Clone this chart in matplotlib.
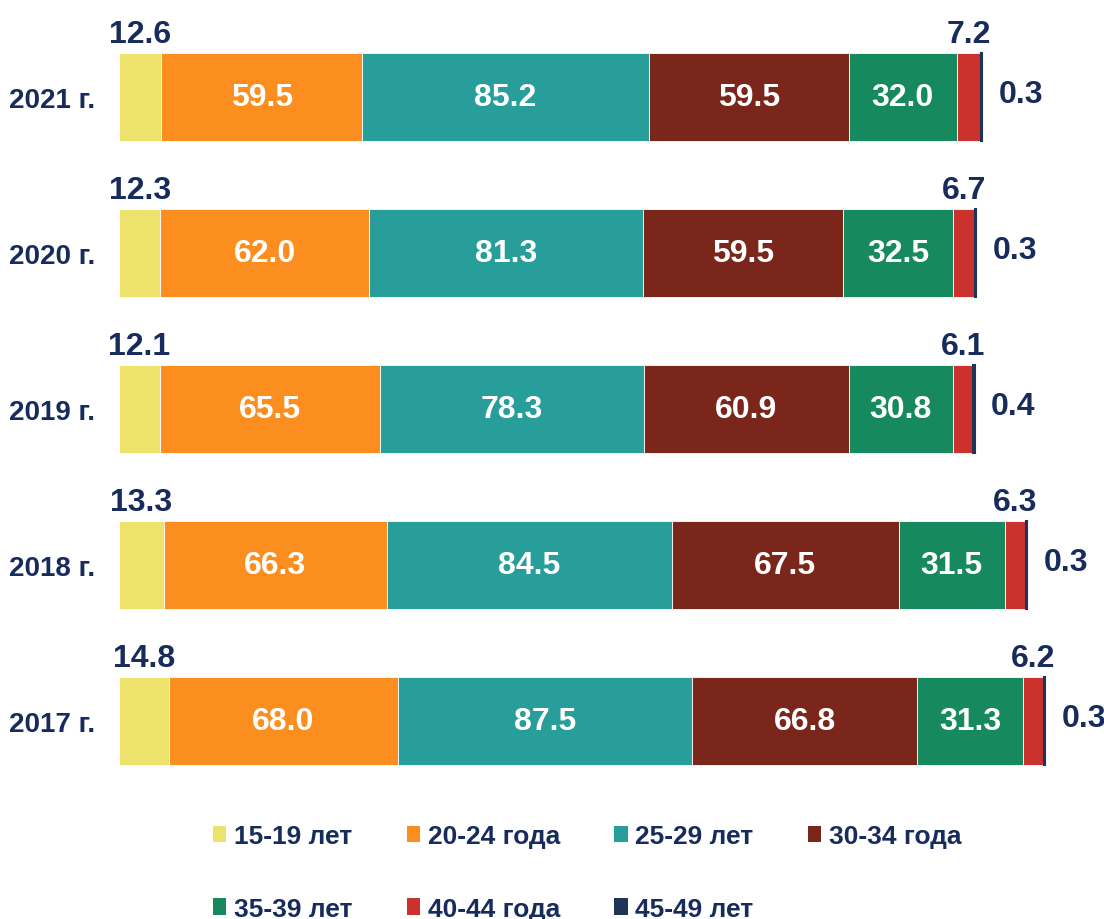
import numpy as np
import matplotlib.pyplot as plt
from matplotlib.patches import Patch

plt.rcParams['font.family'] = ['Liberation Sans', 'DejaVu Sans']
plt.rcParams['font.weight'] = 'bold'

years = ['2017 г.', '2018 г.', '2019 г.', '2020 г.', '2021 г.']
groups = ['15-19 лет', '20-24 года', '25-29 лет', '30-34 года',
          '35-39 лет', '40-44 года', '45-49 лет']
colors = ['#EDE26B', '#FB8E1E', '#289E9A', '#7A261A',
          '#168A5E', '#CC322D', '#1F3458']

# values per age group, years 2017..2021
v15 = [14.8, 13.3, 12.1, 12.3, 12.6]
v20 = [68.0, 66.3, 65.5, 62.0, 59.5]
v25 = [87.5, 84.5, 78.3, 81.3, 85.2]
v30 = [66.8, 67.5, 60.9, 59.5, 59.5]
v35 = [31.3, 31.5, 30.8, 32.5, 32.0]
v40 = [6.2, 6.3, 6.1, 6.7, 7.2]
v45 = [0.3, 0.3, 0.4, 0.3, 0.3]
series = [v15, v20, v25, v30, v35, v40, v45]

navy = '#172B5C'

fig = plt.figure(figsize=(11.04, 9.2), dpi=100)
ax = fig.add_axes([119/1104, 1-800/920, 1-119/1104, 800/920])

y = np.arange(len(years))
h = 0.56
left = np.zeros(len(years))
for k, (vals, c) in enumerate(zip(series, colors)):
    vals = np.array(vals)
    if k == 6:
        ax.barh(y, vals, h, left=left, color=c, edgecolor=c, linewidth=1.5)
    else:
        ax.barh(y, vals, h, left=left, color=c, edgecolor='white', linewidth=0.6)
    for i in range(len(years)):
        cx = left[i] + vals[i] / 2
        if k == 0 or k == 5:
            ax.annotate(f'{vals[i]:.1f}', (cx, y[i] + h / 2), xytext=(0, 3),
                        textcoords='offset points', ha='center', va='bottom',
                        fontsize=23, color=navy, fontweight='bold')
        elif k == 6:
            ax.annotate(f'{vals[i]:.1f}', (left[i] + vals[i], y[i]), xytext=(12, 2),
                        textcoords='offset points', ha='left', va='center',
                        fontsize=23, color=navy, fontweight='bold')
        else:
            ax.text(cx, y[i], f'{vals[i]:.1f}', ha='center', va='center',
                    fontsize=23, color='white', fontweight='bold')
    left += vals

ax.set_xlim(0, (1104 - 119) / 3.367)
ax.set_ylim(-0.5, 4.628)
ax.set_yticks(y)
ax.set_yticklabels(years, fontsize=20, color=navy, fontweight='bold')
ax.tick_params(axis='y', length=0, pad=17)
ax.set_xticks([])
for s in ax.spines.values():
    s.set_visible(False)

# legend filled column by column, so reorder for row-wise reading
order = [0, 4, 1, 5, 2, 6, 3]
handles = [Patch(facecolor=colors[j], edgecolor='none') for j in order]
labels = [groups[j] for j in order]
fig.legend(handles, labels, ncol=4, loc='upper left',
           bbox_to_anchor=(200/1104, 1-812/920), frameon=False,
           prop={'size': 19, 'weight': 'bold'}, labelcolor=navy,
           handlelength=0.5, handleheight=0.6, handletextpad=0.3,
           columnspacing=2.05, labelspacing=1.85, borderpad=0)

fig.savefig('out.png', dpi=100)
